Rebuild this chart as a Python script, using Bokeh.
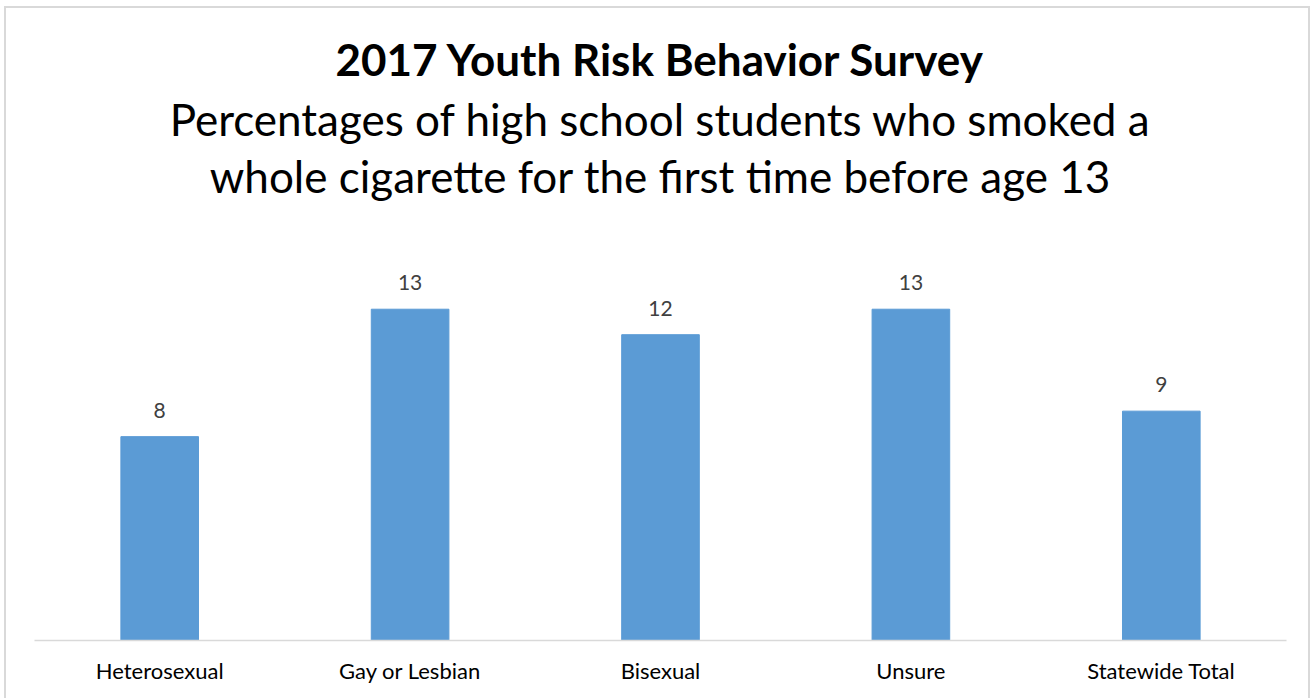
from bokeh.plotting import figure
from bokeh.models import ColumnDataSource, LabelSet, Label
from bokeh.core.properties import value
from bokeh.embed import file_html
from bokeh.resources import INLINE

categories = ["Heterosexual", "Gay or Lesbian", "Bisexual", "Unsure", "Statewide Total"]
percentages = [8, 13, 12, 13, 9]
title_text = "2017 Youth Risk Behavior Survey"
subtitle_lines = ["Percentages of high school students who smoked a",
                  "whole cigarette for the first time before age 13"]

FONT = "Lato"
source = ColumnDataSource(data=dict(cat=categories, val=percentages,
                                    lbl=[str(v) for v in percentages]))

Y_END = 24.8
p = figure(x_range=categories, y_range=(0, Y_END), width=1306, height=700,
           output_backend="svg", toolbar_location=None, title=None,
           min_border_left=28, min_border_right=26, min_border_bottom=68, min_border_top=0)
p.styles = {"margin-left": "4px", "margin-top": "6px",
            "border": "2px solid #d9d9d9"}

p.vbar(x="cat", top="val", width=0.31, source=source, color="#5B9BD5")

labels = LabelSet(x="cat", y="val", text="lbl", source=source, y_offset=19,
                  text_align="center", text_baseline="alphabetic",
                  text_font=value(FONT), text_font_size="21px", text_color="#404040")
p.add_layout(labels)

# text positions in pixels above the axis line, converted to data units
px_per_unit = 632 / Y_END
title_rows = [582, 522, 465]
texts = [title_text] + subtitle_lines
for i, (t, h) in enumerate(zip(texts, title_rows)):
    p.add_layout(Label(x=2.5, y=h / px_per_unit, text=t,
                       text_font=FONT, text_font_style="bold" if i == 0 else "normal",
                       text_font_size="44px",
                       text_align="center", text_baseline="middle", text_color="black"))

p.yaxis.visible = False
p.xgrid.grid_line_color = None
p.ygrid.grid_line_color = None
p.outline_line_color = None
p.xaxis.axis_line_color = "#d9d9d9"
p.xaxis.axis_line_width = 1.5
p.xaxis.major_tick_line_color = None
p.xaxis.minor_tick_line_color = None
p.xaxis.major_label_standoff = 10
p.xaxis.major_label_text_font = FONT
p.xaxis.major_label_text_font_size = "22px"
p.xaxis.major_label_text_color = "#000000"
p.x_range.range_padding = 0

open("out.html", "w").write(file_html(p, INLINE))
